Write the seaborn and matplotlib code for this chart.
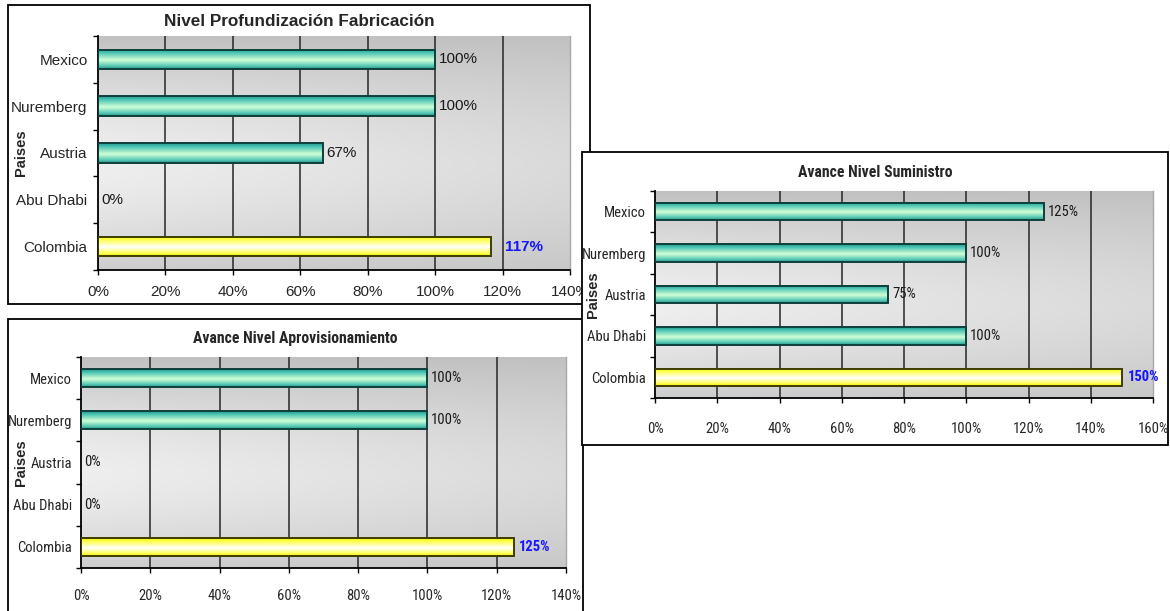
import numpy as np
import matplotlib
matplotlib.use("Agg")
import matplotlib.pyplot as plt
import seaborn as sns
from matplotlib.patches import Rectangle
from matplotlib import font_manager

# ---------------- data ----------------
categories = ["Mexico", "Nuremberg", "Austria", "Abu Dhabi", "Colombia"]
fabricacion = [100, 100, 66.7, 0, 116.7]
aprovisionamiento = [100, 100, 0, 0, 125]
suministro = [125, 100, 75, 100, 150]
titles = ["Nivel Profundización Fabricación",
          "Avance Nivel Aprovisionamiento",
          "Avance Nivel Suministro"]
ylabel_text = "Paises"
ticks_140 = [0, 20, 40, 60, 80, 100, 120, 140]
ticks_160 = [0, 20, 40, 60, 80, 100, 120, 140, 160]
highlight = "Colombia"

# ---------------- fonts ----------------
sns.set_style("white")
names = {f.name for f in font_manager.fontManager.ttflist}
REG = "Liberation Sans" if "Liberation Sans" in names else "DejaVu Sans"
NARROW, narrow_scale = REG, 0.86
for cand in ["Liberation Sans Narrow", "Roboto Condensed", "Open Sans Condensed",
             "Noto Sans Condensed", "DejaVu Sans Condensed"]:
    if cand in names:
        NARROW, narrow_scale = cand, 1.0
        break
plt.rcParams["font.family"] = [REG, "DejaVu Sans"]

W, H = 1170, 611
fig = plt.figure(figsize=(W / 100, H / 100), dpi=100)
fig.patch.set_facecolor("white")


def fbox(l, t, r, b):
    return [l / W, 1 - b / H, (r - l) / W, (b - t) / H]


def grad(stops, n=60):
    pos = [s[0] for s in stops]
    t = np.linspace(0, 1, n)
    cols = np.stack([np.interp(t, pos, [s[1][k] for s in stops]) for k in range(3)], axis=1)
    return cols[:, None, :]


TEAL = grad([(0.0, (0.15, 0.58, 0.54)), (0.15, (0.26, 0.75, 0.69)),
             (0.55, (0.82, 1.00, 0.84)), (0.85, (0.34, 0.79, 0.71)),
             (1.0, (0.16, 0.58, 0.53))])
YELL = grad([(0.0, (0.93, 0.93, 0.10)), (0.15, (1.0, 1.0, 0.25)),
             (0.55, (1.0, 1.0, 1.0)), (0.85, (1.0, 1.0, 0.35)),
             (1.0, (0.93, 0.93, 0.05))])

# background gradient
ny, nx = 200, 200
yy = np.linspace(0, 1, ny)[:, None]
xx = np.linspace(0, 1, nx)[None, :]
d = np.clip(np.abs(yy - 0.55) / 0.55, 0, 1)
light = 0.935 - 0.08 * xx
val = 0.755 + (light - 0.755) * (1 - d ** 1.6)
BG = np.repeat(val[:, :, None], 3, axis=2)


def panel(box, axpx, values, title, ticks, font, fs, tfs, title_y, ylab_x,
          xpad, ypad, hl_off, z):
    l, t, r, b = box
    fig.add_artist(Rectangle((l / W, 1 - b / H), (r - l) / W, (b - t) / H,
                             transform=fig.transFigure, facecolor="white",
                             edgecolor="black", lw=1.3, zorder=z))
    ax = fig.add_axes(fbox(*axpx))
    ax.set_zorder(z + 0.5)
    ax.patch.set_alpha(0)

    pal = {c: ("#ffff66" if c == highlight else "#66ccbb") for c in categories}
    sns.barplot(x=values, y=categories, hue=categories, palette=pal, orient="h",
                width=0.42, legend=False, ax=ax, edgecolor="black", linewidth=1.2,
                saturation=1)

    ax.imshow(BG, extent=(0, 1, 0, 1), transform=ax.transAxes, aspect="auto",
              zorder=0, origin="upper", interpolation="bilinear")

    for patch, cat, v in zip(ax.patches, categories, values):
        x0, y0 = patch.get_x(), patch.get_y()
        w, h = patch.get_width(), patch.get_height()
        is_hl = cat == highlight
        if w > 0:
            ax.imshow(YELL if is_hl else TEAL, extent=(x0, x0 + w, y0 + h, y0),
                      aspect="auto", zorder=2, origin="upper", interpolation="bilinear")
        patch.set_facecolor("none")
        patch.set_edgecolor("#3d3d00" if is_hl else "#0f3f3b")
        patch.set_linewidth(1.4 if w > 0 else 0)
        patch.set_zorder(3)

    for i, (cat, v) in enumerate(zip(categories, values)):
        is_hl = cat == highlight
        ax.annotate(f"{v:.0f}%", xy=(v, i), xytext=(hl_off if is_hl else 2.5, 0),
                    textcoords="offset points", ha="left", va="center",
                    fontsize=fs, color="#1515ff" if is_hl else "#1a1a1a",
                    fontweight="bold" if is_hl else "normal", family=[font, "DejaVu Sans"],
                    zorder=4)

    ax.set_xlim(0, ticks[-1])
    ax.set_ylim(4.5, -0.5)
    ax.set_xticks(ticks)
    ax.set_xticklabels([f"{k}%" for k in ticks], family=[font, "DejaVu Sans"], fontsize=fs)
    ax.set_yticks(range(len(categories)))
    ax.set_yticklabels(categories, family=[font, "DejaVu Sans"], fontsize=fs)
    ax.set_yticks(np.arange(-0.5, len(categories), 1), minor=True)
    ax.tick_params(axis="y", which="major", length=0, pad=ypad, left=True)
    ax.tick_params(axis="y", which="minor", length=3.6, width=1, color="black",
                   direction="out", left=True)
    ax.tick_params(axis="x", which="major", length=3.6, width=1, color="black",
                   direction="out", bottom=True, pad=xpad)
    ax.set_xlabel("")
    ax.set_ylabel("")
    ax.grid(axis="x", color="#262626", lw=1.1)
    ax.grid(axis="y", visible=False)
    ax.set_axisbelow(True)
    mt = ax.xaxis.get_major_ticks()
    mt[0].gridline.set_visible(False)
    mt[-1].gridline.set_visible(False)
    for s in ["left", "bottom"]:
        ax.spines[s].set_visible(True)
        ax.spines[s].set_color("black")
        ax.spines[s].set_linewidth(1.3)
    ax.spines["top"].set_visible(False)
    ax.spines["right"].set_visible(True)
    ax.spines["right"].set_color("#a8a8a8")
    ax.spines["right"].set_linewidth(1.0)

    ax.text((l + r) / 2 / W, 1 - title_y / H, title, transform=fig.transFigure,
            ha="center", va="center", fontsize=tfs, fontweight="bold",
            family=[font, "DejaVu Sans"])
    cy = (axpx[1] + axpx[3]) / 2
    ax.text(ylab_x / W, 1 - cy / H, ylabel_text, transform=fig.transFigure,
            rotation=90, ha="center", va="center", fontsize=10.5, fontweight="bold",
            family=[REG, "DejaVu Sans"])
    return ax


nfs = 10.5 * narrow_scale
panel((8, 5, 590, 304), (98, 36, 570, 270), fabricacion, titles[0], ticks_140,
      REG, 11, 12.3, 21, 21, xpad=7.5, ypad=7.5, hl_off=10, z=1)
panel((8, 319, 583, 640), (81, 357, 566, 568), aprovisionamiento, titles[1], ticks_140,
      NARROW, nfs, 11.3 * narrow_scale, 339, 21, xpad=11.5, ypad=6.5, hl_off=3.5, z=3)
panel((582, 152, 1168, 445), (655, 191, 1153, 398), suministro, titles[2], ticks_160,
      NARROW, nfs, 11.3 * narrow_scale, 172, 593, xpad=13.5, ypad=6.5, hl_off=4, z=5)

fig.savefig("out.png", dpi=100, facecolor="white")
